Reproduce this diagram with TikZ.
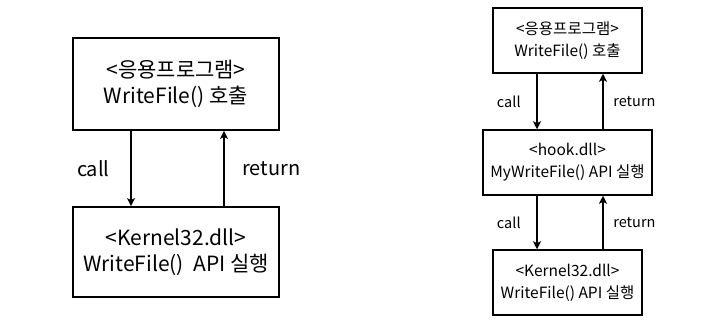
\documentclass[tikz,border=0pt]{standalone}
\usepackage{fontspec}
\setmainfont{Noto Sans CJK KR}
\usetikzlibrary{arrows.meta,positioning}

\tikzset{
  bigbox/.style={draw,line width=1.8pt,inner sep=0pt,align=center,font=\fontsize{21}{26}\selectfont},
  smallbox/.style={draw,line width=1.5pt,inner sep=0pt,align=center,font=\fontsize{15.5}{22}\selectfont},
  flow/.style={line width=2.1pt,-{Stealth[length=8pt,width=8pt,inset=2pt]}},
}

\begin{document}
\begin{tikzpicture}[x=1pt,y=-1pt]
  \useasboundingbox (0,0) rectangle (728,330);
  % left: direct call
  \node[bigbox,minimum width=206pt,minimum height=92pt] (app) at (176,84)
    {<응용프로그램>\\WriteFile() 호출};
  \node[bigbox,minimum width=206pt,minimum height=90pt] (kern) at (176,252)
    {<Kernel32.dll>\\WriteFile()\ \ API 실행};
  \draw[flow] ([xshift=-45pt]app.south) -- ([xshift=-45pt]kern.north)
    node[midway,left=17pt,font=\fontsize{20}{24}\selectfont] {call};
  \draw[flow] ([xshift=48pt]kern.north) -- ([xshift=48pt]app.south)
    node[midway,right=14pt,font=\fontsize{20}{24}\selectfont] {return};
  % right: hooked call
  \node[smallbox,minimum width=149pt,minimum height=65pt] (happ) at (567.5,40.5)
    {<응용프로그램>\\WriteFile() 호출};
  \node[smallbox,minimum width=169pt,minimum height=65pt] (hook) at (567.5,162.5)
    {<hook.dll>\\MyWriteFile() API 실행};
  \node[smallbox,minimum width=149pt,minimum height=65pt] (hkern) at (567.5,282.5)
    {<Kernel32.dll>\\WriteFile() API 실행};
  \draw[flow] ([xshift=-30.5pt]happ.south) -- ([xshift=-30.5pt]hook.north)
    node[midway,left=12pt,font=\fontsize{14.5}{18}\selectfont] {call};
  \draw[flow] ([xshift=35.5pt]hook.north) -- ([xshift=35.5pt]happ.south)
    node[midway,right=6pt,font=\fontsize{14.5}{18}\selectfont] {return};
  \draw[flow] ([xshift=-30.5pt]hook.south) -- ([xshift=-30.5pt]hkern.north)
    node[midway,left=12pt,font=\fontsize{14.5}{18}\selectfont] {call};
  \draw[flow] ([xshift=35.5pt]hkern.north) -- ([xshift=35.5pt]hook.south)
    node[midway,right=6pt,font=\fontsize{14.5}{18}\selectfont] {return};
\end{tikzpicture}
\end{document}
